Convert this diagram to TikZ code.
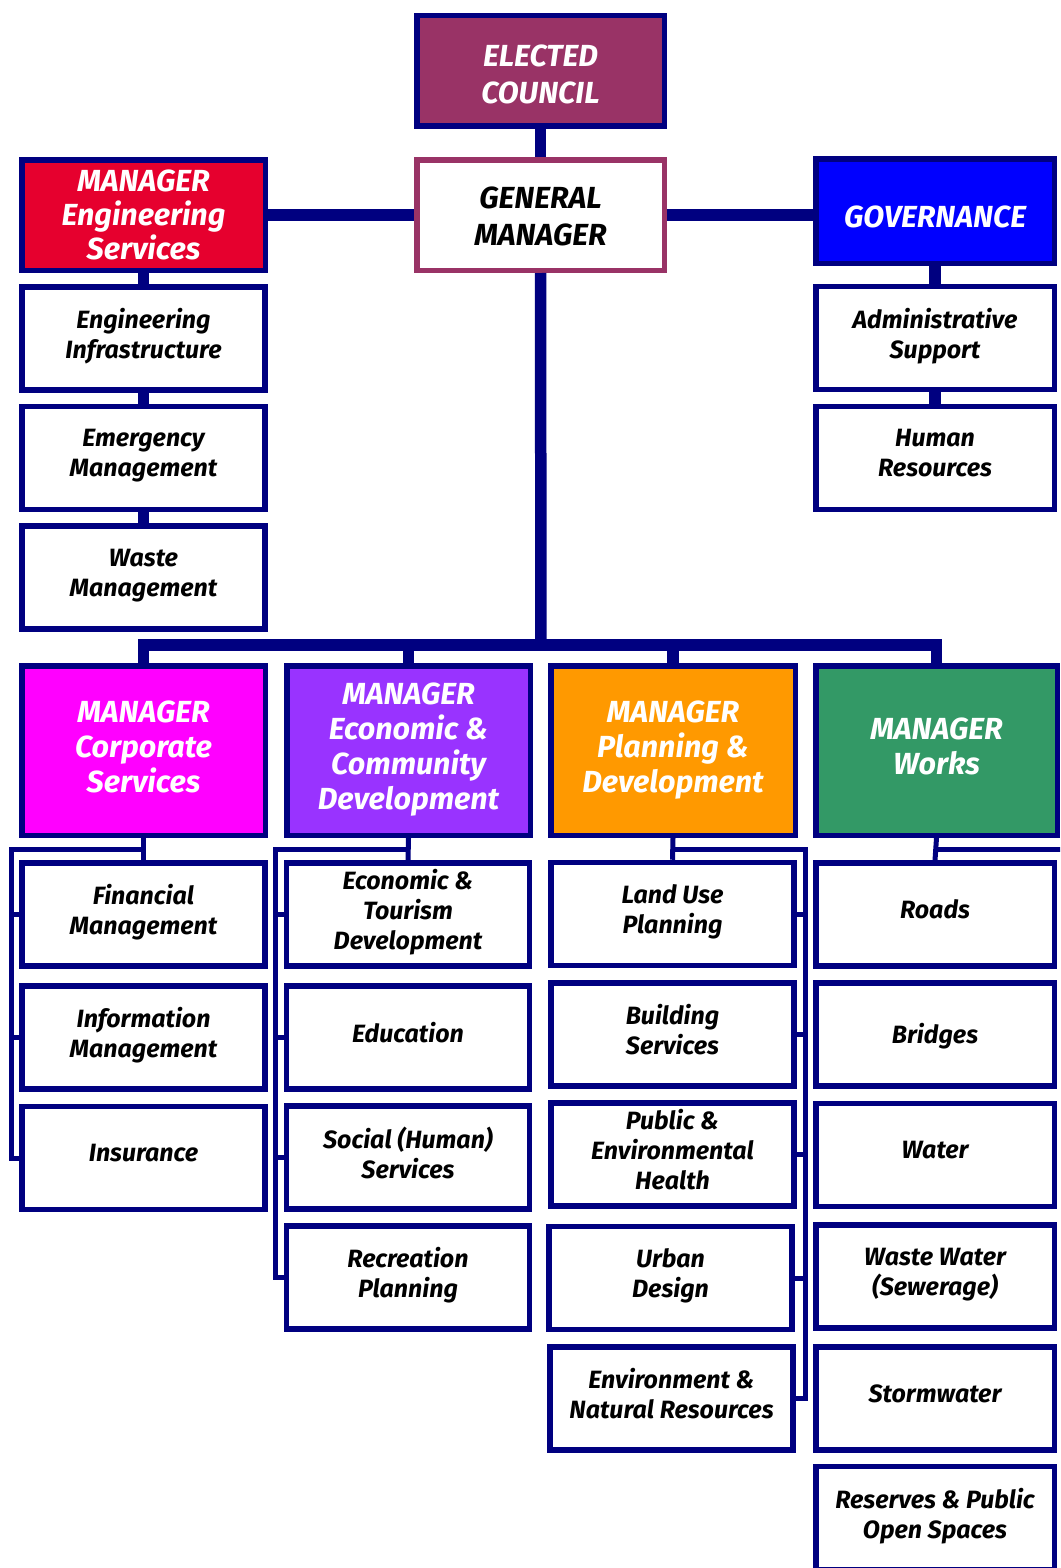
\documentclass[tikz,border=0pt]{standalone}
\usepackage{fontspec}
\setmainfont{Fira Sans}
\definecolor{navy}{HTML}{000080}
\definecolor{plum}{HTML}{993366}
\definecolor{engred}{HTML}{E6002E}
\definecolor{govblue}{HTML}{0000FF}
\definecolor{corpmag}{HTML}{FF00FF}
\definecolor{econpur}{HTML}{9933FF}
\definecolor{planor}{HTML}{FF9900}
\definecolor{worksgr}{HTML}{339966}
\newcommand\subfnt{\fontsize{25}{30}\selectfont\bfseries\itshape}
\newcommand\hdfnt{\fontsize{30.5}{35}\selectfont\bfseries\itshape}
\newcommand\topfnt{\fontsize{30.5}{37}\selectfont\bfseries\itshape}
\newcommand\engfnt{\fontsize{30.5}{34}\selectfont\bfseries\itshape}
\begin{document}
\begin{tikzpicture}[x=1pt,y=-1pt,
  box/.style={draw=navy, line width=5.5pt, inner sep=0pt, align=center, fill=white, text=black, font=\subfnt},
  subbox/.style={box, minimum width=243pt, minimum height=103pt, execute at end node={\rule[-10pt]{0pt}{10pt}}},
  topbox/.style={box, minimum width=247.5pt, minimum height=110.5pt, text=white, font=\topfnt},
  mgrbox/.style={box, minimum width=243.5pt, minimum height=169.5pt, text=white, font=\hdfnt, execute at end node={\rule[-8pt]{0pt}{8pt}}},
  thickconn/.style={draw=navy, line width=11.5pt},
  thinconn/.style={draw=navy, line width=5pt}]
\useasboundingbox (0,0) rectangle (1060,1568);
\clip (0,0) rectangle (1060,1568);

% top row
\node[topbox, fill=plum] (ec) at (540.5,71) {\rule{0pt}{28pt}ELECTED\\COUNCIL};
\node[topbox, draw=plum, fill=white, text=black] (gm) at (540.5,215) {\rule{0pt}{25pt}GENERAL\\MANAGER};
\node[topbox, fill=engred, minimum width=243.5pt, font=\engfnt] (eng) at (143.5,215) {MANAGER\\Engineering\\Services};
\node[topbox, fill=govblue, minimum width=238.5pt, minimum height=104.5pt] (gov) at (935,211) {\raisebox{-6pt}[21pt][0pt]{GOVERNANCE}};

% engineering subs
\node[subbox] (ei) at (143.5,338.5) {Engineering\\Infrastructure};
\node[subbox] (em) at (143.5,458) {Emergency\\Management};
\node[subbox] (wm) at (143.5,577.5) {Waste\\Management};

% governance subs
\node[subbox, minimum width=238.5pt] (as) at (935,338) {Administrative\\Support};
\node[subbox, minimum width=238.5pt] (hr) at (935,458) {Human\\Resources};

% managers
\node[mgrbox, fill=corpmag] (cs) at (143.5,750.5) {MANAGER\\Corporate\\Services};
\node[mgrbox, fill=econpur] (ecd) at (408.5,750.5) {MANAGER\\Economic \&\\Community\\Development};
\node[mgrbox, fill=planor, minimum width=244.5pt] (pd) at (673,750.5) {MANAGER\\Planning \&\\Development};
\node[mgrbox, fill=worksgr, minimum width=241.5pt] (mw) at (936.5,750.5) {MANAGER\\Works};

% corporate subs
\node[subbox] (fm) at (143.5,914.5) {Financial\\Management};
\node[subbox] (im) at (143.5,1037.5) {Information\\Management};
\node[subbox] (ins) at (143.5,1158) {Insurance};

% economic subs
\node[subbox] (et) at (408,914.5) {Economic \&\\Tourism\\Development};
\node[subbox] (edu) at (408,1037.5) {Education};
\node[subbox] (soc) at (408,1157.5) {Social (Human)\\Services};
\node[subbox] (rec) at (408,1277.5) {Recreation\\Planning};

% planning subs
\node[subbox] (lu) at (672.5,914) {Land Use\\Planning};
\node[subbox] (bs) at (672.5,1034.5) {Building\\Services};
\node[subbox] (peh) at (672.5,1154.5) {Public \&\\Environmental\\Health};
\node[subbox] (ud) at (670.5,1278) {Urban\\Design};
\node[subbox] (env) at (671.5,1398.5) {Environment \&\\Natural Resources};

% works subs
\node[subbox, minimum width=238.5pt] (rd) at (935,914.5) {Roads};
\node[subbox, minimum width=238.5pt] (br) at (935,1034.5) {\rule{0pt}{28pt}Bridges};
\node[subbox, minimum width=238.5pt] (wa) at (935,1155) {Water};
\node[subbox, minimum width=238.5pt] (ww) at (935,1276.5) {Waste Water\\(Sewerage)};
\node[subbox, minimum width=238.5pt] (sw) at (935,1398.5) {Stormwater};
\node[subbox, minimum width=238.5pt] (rp) at (935,1518) {Reserves \& Public\\Open Spaces};

% thick connectors
\draw[thickconn] (ec.south) -- (gm.north);
\draw[thickconn] (eng.east) -- (gm.west);
\draw[thickconn] (gm.east) -- (gm.east -| gov.west);
\draw[thickconn] (eng.south) -- (ei.north);
\draw[thickconn] (ei.south) -- (em.north);
\draw[thickconn] (em.south) -- (wm.north);
\draw[thickconn] (gov.south -| as.north) -- (as.north);
\draw[thickconn] (as.south) -- (hr.north);

\coordinate (bus) at (541,645);
\draw[thickconn] (gm.south) -- (bus);
\draw[thickconn] (cs.north) |- (bus) -| (mw.north);
\draw[thickconn] (ecd.north) -- (ecd.north |- bus);
\draw[thickconn] (pd.north) -- (pd.north |- bus);

% corporate bracket
\coordinate (csk) at (143.5,849);
\coordinate (csl) at (11.5,849);
\draw[thinconn] (cs.south) -- (fm.north);
\draw[thinconn] (csk) -- (csl) |- (ins.west);
\draw[thinconn] (csl) |- (fm.west);
\draw[thinconn] (csl) |- (im.west);

% economic bracket
\coordinate (eck) at (408,849.5);
\coordinate (ecl) at (275.5,849.5);
\draw[thinconn] (ecd.south) -- (et.north);
\draw[thinconn] (eck) -- (ecl) |- (rec.west);
\draw[thinconn] (ecl) |- (et.west);
\draw[thinconn] (ecl) |- (edu.west);
\draw[thinconn] (ecl) |- (soc.west);

% planning bracket
\coordinate (pdk) at (673,849);
\coordinate (pdr) at (805.5,849);
\draw[thinconn] (pd.south) -- (lu.north);
\draw[thinconn] (pdk) -- (pdr) |- (env.east);
\draw[thinconn] (pdr) |- (lu.east);
\draw[thinconn] (pdr) |- (bs.east);
\draw[thinconn] (pdr) |- (peh.east);
\draw[thinconn] (pdr) |- (ud.east);

% works bracket
\coordinate (mwk) at (936.5,849);
\coordinate (mwr) at (1075,849);
\draw[thinconn] (mw.south) -- (rd.north);
\draw[thinconn] (mwk) -- (mwr);
\end{tikzpicture}
\end{document}
